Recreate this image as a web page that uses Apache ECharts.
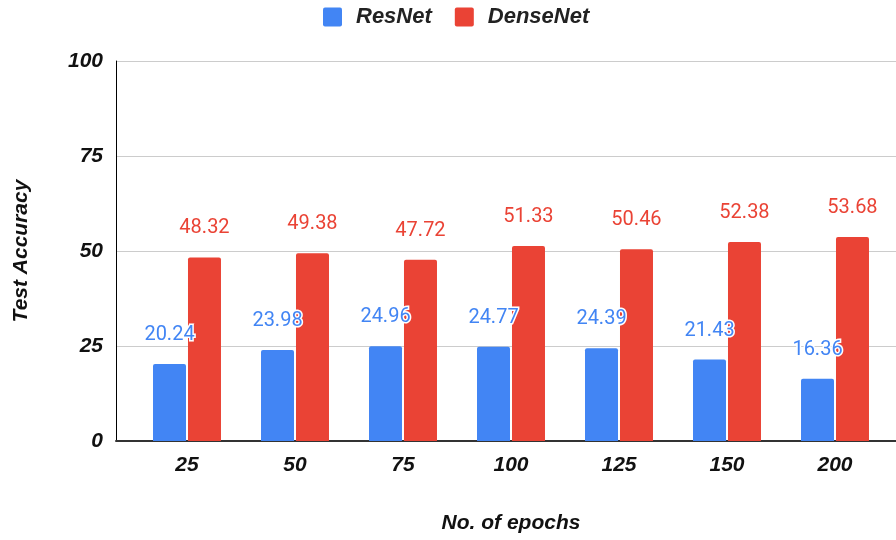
<!DOCTYPE html>
<html>
<head>
<meta charset="utf-8">
<script src="https://cdn.jsdelivr.net/npm/echarts@6/dist/echarts.min.js"></script>
<style>
  html, body { margin: 0; padding: 0; background: #fff; }
  #chart { width: 896px; height: 540px; }
</style>
</head>
<body>
<div id="chart"></div>
<script>
// Test accuracy of two networks after different numbers of training epochs
const epochs = ['25', '50', '75', '100', '125', '150', '200'];
const resnetAcc = [20.24, 23.98, 24.96, 24.77, 24.39, 21.43, 16.36];
const densenetAcc = [48.32, 49.38, 47.72, 51.33, 50.46, 52.38, 53.68];
const yTicks = [0, 25, 50, 75, 100];

const BLUE = '#4285f4';
const RED = '#ea4335';
const AXIS_FONT = {
  fontFamily: '"Liberation Sans", Arial, sans-serif',
  fontStyle: 'italic',
  fontWeight: 'bold',
  fontSize: 21,
  color: '#111'
};
// square legend swatch with lightly rounded corners
const SWATCH = 'path://M2,0 L17,0 Q19,0 19,2 L19,17 Q19,19 17,19 L2,19 Q0,19 0,17 L0,2 Q0,0 2,0 Z';

const chart = echarts.init(document.getElementById('chart'), null, { renderer: 'canvas' });

function valueLabel(color) {
  return {
    show: true,
    position: 'top',
    distance: 19,
    fontFamily: 'Roboto, "Liberation Sans", sans-serif',
    fontSize: 20,
    color: color,
    textBorderColor: '#fff',
    textBorderWidth: 3,
    formatter: p => p.value.toFixed(2)
  };
}

chart.setOption({
  animation: false,
  backgroundColor: '#fff',
  legend: {
    top: 6,
    left: 323,
    padding: 0,
    itemWidth: 19,
    itemHeight: 19,
    itemGap: 23,
    icon: SWATCH,
    textStyle: {
      fontFamily: '"Liberation Sans", Arial, sans-serif',
      fontStyle: 'italic',
      fontWeight: 'bold',
      fontSize: 22,
      color: '#222',
      padding: [0, 0, 0, 9]
    },
    data: ['ResNet', 'DenseNet']
  },
  grid: [
    // frame: y axis, gridlines and baseline
    { left: 116, right: 0, top: 61, bottom: 99 },
    // bar area
    { left: 133, right: 7, top: 61, bottom: 99 }
  ],
  xAxis: [
    {
      gridIndex: 0,
      type: 'value',
      min: 0,
      max: 1,
      axisLine: { show: true, lineStyle: { color: '#333', width: 2 } },
      axisTick: { show: false },
      axisLabel: { show: false },
      splitLine: { show: false }
    },
    {
      gridIndex: 1,
      type: 'category',
      data: epochs,
      axisLine: { show: false },
      axisTick: { show: false },
      axisLabel: Object.assign({ margin: 14 }, AXIS_FONT),
      name: 'No. of epochs',
      nameLocation: 'middle',
      nameGap: 72,
      nameTextStyle: AXIS_FONT
    }
  ],
  yAxis: [
    {
      gridIndex: 0,
      type: 'value',
      min: yTicks[0],
      max: yTicks[yTicks.length - 1],
      interval: 25,
      axisLine: { show: true, lineStyle: { color: '#000', width: 1 } },
      axisTick: { show: false },
      axisLabel: Object.assign({ margin: 13 }, AXIS_FONT),
      splitLine: { show: true, lineStyle: { color: '#cccccc', width: 1 } },
      name: 'Test Accuracy',
      nameLocation: 'middle',
      nameGap: 84,
      nameRotate: 90,
      nameTextStyle: AXIS_FONT
    },
    {
      gridIndex: 1,
      type: 'value',
      min: yTicks[0],
      max: yTicks[yTicks.length - 1],
      show: false
    }
  ],
  series: [
    {
      name: 'ResNet',
      type: 'bar',
      xAxisIndex: 1,
      yAxisIndex: 1,
      data: resnetAcc,
      barWidth: 33,
      barGap: '6%',
      itemStyle: { color: BLUE, borderRadius: [2, 2, 0, 0] },
      label: valueLabel(BLUE)
    },
    {
      name: 'DenseNet',
      type: 'bar',
      xAxisIndex: 1,
      yAxisIndex: 1,
      data: densenetAcc,
      barWidth: 33,
      barGap: '6%',
      itemStyle: { color: RED, borderRadius: [2, 2, 0, 0] },
      label: valueLabel(RED)
    }
  ]
});
</script>
</body>
</html>
